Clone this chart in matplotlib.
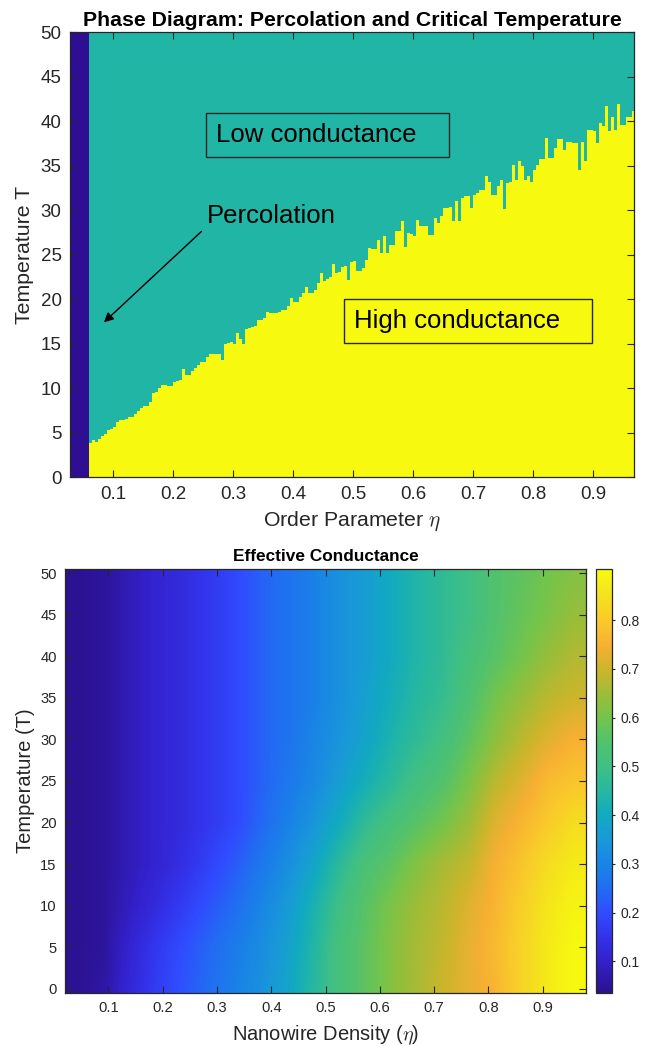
import numpy as np
import matplotlib
matplotlib.use("Agg")
import matplotlib.pyplot as plt
from matplotlib.colors import LinearSegmentedColormap

plt.rcParams['font.family'] = ['Liberation Sans', 'DejaVu Sans']
plt.rcParams['mathtext.fontset'] = 'cm'

# --- phase diagram: percolation threshold and critical temperature per column ---
ETA_PERC = 0.06
TC_STEP = 0.005
tc_eta = np.round(np.arange(0.060, 0.966, TC_STEP), 3)
tc_values = [
    3.8, 4.2, 4.0, 4.3, 4.6, 4.9, 5.3, 5.4, 5.7, 6.2,
    6.4, 6.4, 6.5, 6.8, 6.8, 7.1, 7.4, 7.8, 8.0, 8.0,
    8.4, 9.5, 9.6, 10.0, 10.4, 10.4, 10.2, 10.2, 10.7, 10.8,
    10.9, 12.2, 11.5, 11.5, 11.9, 12.3, 12.6, 13.0, 13.0, 13.5,
    13.8, 13.9, 13.9, 13.9, 13.2, 15.0, 15.1, 15.2, 15.0, 16.2,
    15.5, 15.0, 16.7, 16.8, 16.9, 17.0, 17.7, 17.7, 17.9, 18.6,
    18.4, 18.4, 18.4, 18.6, 18.8, 18.8, 19.2, 20.1, 19.7, 19.7,
    20.2, 20.7, 21.4, 20.7, 20.7, 21.0, 21.8, 22.9, 22.0, 22.3,
    22.5, 23.9, 22.9, 23.0, 23.6, 23.7, 22.2, 24.2, 24.3, 23.2,
    23.2, 23.5, 24.4, 25.8, 25.6, 25.6, 26.7, 25.2, 27.1, 25.2,
    26.1, 26.1, 27.6, 27.6, 28.8, 25.9, 27.4, 27.3, 27.1, 28.9,
    28.2, 28.2, 28.2, 27.2, 27.2, 29.1, 28.6, 29.3, 30.2, 30.2,
    30.4, 28.8, 31.0, 28.8, 31.4, 31.6, 31.6, 30.2, 31.7, 31.9,
    32.3, 32.3, 33.8, 33.2, 31.7, 31.7, 32.7, 33.4, 30.1, 33.1,
    33.2, 35.1, 33.4, 35.5, 34.9, 33.4, 33.8, 33.2, 34.5, 35.1,
    35.7, 35.7, 38.1, 35.9, 35.9, 37.0, 38.0, 38.0, 36.8, 37.7,
    37.7, 37.5, 37.5, 34.5, 37.7, 35.5, 39.0, 39.0, 38.9, 37.5,
    39.8, 39.4, 41.7, 38.9, 40.5, 39.0, 41.9, 39.6, 39.6, 40.5,
    40.5, 41.1,
]

# --- effective conductance grid (columns = density, rows = temperature) ---
g_eta = [0.044, 0.092, 0.140, 0.188, 0.236, 0.284, 0.332, 0.380, 0.428, 0.476,
         0.524, 0.572, 0.620, 0.668, 0.716, 0.764, 0.812, 0.860, 0.908, 0.956]
g_temp = [0, 5, 10, 15, 20, 25, 30, 35, 40, 45, 50]
g_T0 = [0.04, 0.06, 0.12, 0.17, 0.21, 0.25, 0.29, 0.33, 0.38, 0.45, 0.52, 0.57, 0.62, 0.66, 0.70, 0.73, 0.76, 0.82, 0.87, 0.90]
g_T5 = [0.04, 0.05, 0.11, 0.16, 0.20, 0.24, 0.28, 0.32, 0.37, 0.44, 0.52, 0.57, 0.62, 0.66, 0.69, 0.73, 0.77, 0.82, 0.87, 0.90]
g_T10 = [0.04, 0.05, 0.09, 0.13, 0.17, 0.21, 0.25, 0.30, 0.35, 0.42, 0.50, 0.56, 0.61, 0.65, 0.68, 0.72, 0.76, 0.81, 0.86, 0.89]
g_T15 = [0.04, 0.05, 0.08, 0.11, 0.14, 0.18, 0.22, 0.27, 0.32, 0.38, 0.46, 0.53, 0.57, 0.62, 0.66, 0.69, 0.75, 0.79, 0.84, 0.87]
g_T20 = [0.04, 0.05, 0.08, 0.11, 0.13, 0.16, 0.19, 0.24, 0.29, 0.34, 0.40, 0.47, 0.52, 0.56, 0.60, 0.65, 0.72, 0.76, 0.80, 0.84]
g_T25 = [0.04, 0.05, 0.08, 0.11, 0.13, 0.16, 0.19, 0.23, 0.27, 0.31, 0.36, 0.41, 0.46, 0.51, 0.55, 0.61, 0.68, 0.72, 0.77, 0.79]
g_T30 = [0.04, 0.05, 0.08, 0.11, 0.13, 0.16, 0.19, 0.23, 0.26, 0.30, 0.34, 0.38, 0.43, 0.47, 0.51, 0.57, 0.63, 0.68, 0.72, 0.75]
g_T35 = [0.04, 0.05, 0.08, 0.11, 0.13, 0.16, 0.19, 0.23, 0.26, 0.29, 0.33, 0.37, 0.41, 0.45, 0.48, 0.54, 0.60, 0.64, 0.68, 0.70]
g_T40 = [0.04, 0.05, 0.08, 0.11, 0.13, 0.16, 0.19, 0.23, 0.26, 0.29, 0.33, 0.36, 0.40, 0.44, 0.47, 0.52, 0.56, 0.60, 0.64, 0.67]
g_T45 = [0.04, 0.05, 0.08, 0.11, 0.13, 0.16, 0.19, 0.23, 0.26, 0.29, 0.33, 0.36, 0.40, 0.44, 0.47, 0.50, 0.55, 0.58, 0.61, 0.64]
g_T50 = [0.04, 0.05, 0.08, 0.11, 0.13, 0.16, 0.19, 0.23, 0.26, 0.29, 0.33, 0.36, 0.40, 0.44, 0.47, 0.50, 0.55, 0.57, 0.60, 0.62]
G_LIM = (0.035, 0.905)
CBAR_TICKS = [0.1, 0.2, 0.3, 0.4, 0.5, 0.6, 0.7, 0.8]

# parula-like colours
DARK = (0.18, 0.06, 0.58)
TEAL = (0.13, 0.71, 0.65)
YELLOW = (0.97, 0.98, 0.06)
AX_COL = (0.15, 0.15, 0.15)

cmap_anchor = [
    (0.035, (0.17, 0.07, 0.56)),
    (0.10, (0.20, 0.13, 0.80)),
    (0.15, (0.20, 0.20, 0.92)),
    (0.20, (0.19, 0.30, 1.00)),
    (0.25, (0.13, 0.43, 0.95)),
    (0.30, (0.10, 0.52, 0.90)),
    (0.35, (0.10, 0.60, 0.85)),
    (0.40, (0.07, 0.67, 0.75)),
    (0.45, (0.15, 0.72, 0.63)),
    (0.50, (0.25, 0.75, 0.52)),
    (0.55, (0.32, 0.76, 0.43)),
    (0.60, (0.45, 0.77, 0.30)),
    (0.65, (0.62, 0.74, 0.22)),
    (0.70, (0.80, 0.71, 0.17)),
    (0.75, (0.97, 0.69, 0.20)),
    (0.80, (0.98, 0.79, 0.17)),
    (0.85, (0.96, 0.88, 0.12)),
    (0.905, (0.97, 0.98, 0.06)),
]
span = G_LIM[1] - G_LIM[0]
parula = LinearSegmentedColormap.from_list(
    "parula_like", [((v - G_LIM[0]) / span, c) for v, c in cmap_anchor])


def style_axes(ax, tick_size):
    ax.tick_params(direction='in', top=True, right=True, length=5, width=0.8,
                   colors=AX_COL, labelsize=tick_size, pad=6)
    for sp in ax.spines.values():
        sp.set_color(AX_COL)
        sp.set_linewidth(0.9)


fig = plt.figure(figsize=(6.47, 10.46), dpi=100)

# ---------------- top: phase diagram ----------------
ax1 = fig.add_axes([0.1082, 0.5437, 0.8717, 0.4257])
ax1.set_xlim(0.028, 0.968)
ax1.set_ylim(0, 50)
ax1.set_facecolor(TEAL)
ax1.axvspan(0.0, ETA_PERC, color=DARK, lw=0)
edges = np.append(tc_eta, tc_eta[-1] + TC_STEP)
ax1.stairs(tc_values, edges, baseline=0, fill=True, color=YELLOW, lw=0)

ax1.set_xticks([0.1, 0.2, 0.3, 0.4, 0.5, 0.6, 0.7, 0.8, 0.9])
ax1.set_yticks(range(0, 51, 5))
style_axes(ax1, 13.5)
ax1.set_title("Phase Diagram: Percolation and Critical Temperature",
              fontsize=15.3, fontweight='bold', pad=4)
ax1.set_xlabel(r"Order Parameter $\eta$", fontsize=15.3, color=AX_COL, labelpad=5)
ax1.set_ylabel("Temperature T", fontsize=15.3, color=AX_COL, labelpad=5)

box = dict(boxstyle='square,pad=0.4', fc='none', ec=AX_COL, lw=1)
ax1.text(0.272, 38.45, "Low conductance   ", fontsize=18.5, va='center', ha='left', bbox=box)
ax1.text(0.502, 17.55, "High conductance   ", fontsize=18.5, va='center', ha='left', bbox=box)
ax1.text(0.2556, 29.3, "Percolation", fontsize=18.5, va='center', ha='left')
ax1.annotate("", xy=(0.0845, 17.4), xytext=(0.247, 27.6),
             arrowprops=dict(arrowstyle='-|>', color='black', lw=1,
                             mutation_scale=14, shrinkA=0, shrinkB=0))

# ---------------- bottom: effective conductance ----------------
ax2 = fig.add_axes([0.1005, 0.0507, 0.8053, 0.4054])
grid = np.array([g_T0, g_T5, g_T10, g_T15, g_T20, g_T25, g_T30, g_T35, g_T40, g_T45, g_T50])
half_x = (g_eta[1] - g_eta[0]) / 2
half_t = (g_temp[1] - g_temp[0]) / 2
im = ax2.imshow(grid, origin='lower', aspect='auto', cmap=parula,
                vmin=G_LIM[0], vmax=G_LIM[1], interpolation='bilinear',
                extent=[g_eta[0] - half_x, g_eta[-1] + half_x,
                        g_temp[0] - half_t, g_temp[-1] + half_t])
ax2.set_xlim(0.02, 0.98)
ax2.set_ylim(-0.5, 50.5)
ax2.set_xticks([0.1, 0.2, 0.3, 0.4, 0.5, 0.6, 0.7, 0.8, 0.9])
ax2.set_yticks(range(0, 51, 5))
style_axes(ax2, 10.6)
ax2.set_title("Effective Conductance", fontsize=12.4, fontweight='bold', pad=6)
ax2.set_xlabel(r"Nanowire Density ($\eta$)", fontsize=14.5, color=AX_COL, labelpad=6)
ax2.set_ylabel("Temperature (T)", fontsize=14.5, color=AX_COL)

cax = fig.add_axes([0.9212, 0.0507, 0.0243, 0.4054])
cb = fig.colorbar(im, cax=cax, ticks=CBAR_TICKS)
cb.ax.tick_params(direction='out', length=2.5, width=0.8, colors=AX_COL, labelsize=10)
cb.outline.set_edgecolor(AX_COL)
cb.outline.set_linewidth(0.9)

fig.savefig("out.png", dpi=100)
